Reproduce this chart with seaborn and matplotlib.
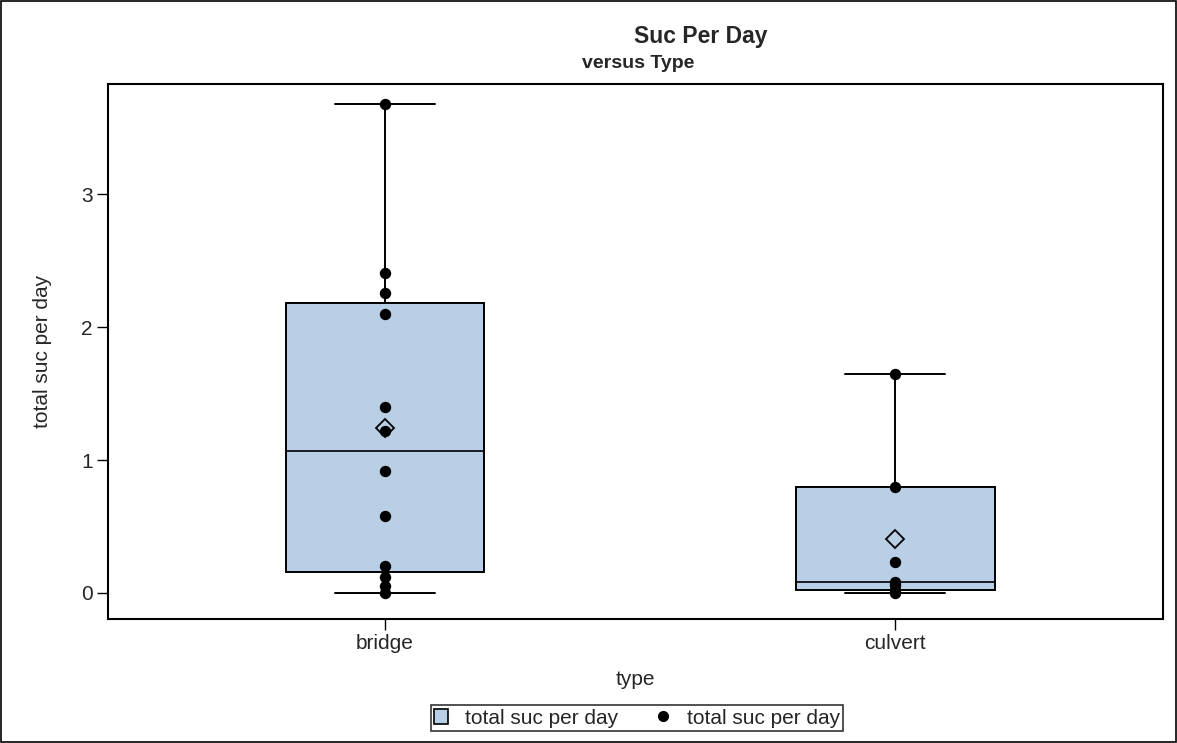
import numpy as np
import pandas as pd
import matplotlib
matplotlib.use("Agg")
import matplotlib as mpl
import matplotlib.pyplot as plt
from matplotlib.patches import Patch
from matplotlib.lines import Line2D
import seaborn as sns

# ---- data ----
types = ["bridge", "culvert"]
bridge_values = [3.68, 2.41, 2.26, 2.10, 1.40, 1.22, 0.92, 0.58, 0.20, 0.12, 0.05, 0.0]
culvert_values = [1.65, 0.80, 0.23, 0.08, 0.06, 0.02, 0.0]
y_ticks = [0, 1, 2, 3]
title = "Suc Per Day"
subtitle = "versus Type"
x_label = "type"
y_label = "total suc per day"
legend_labels = ["total suc per day", "total suc per day"]

box_color = "#B9CFE6"

df = pd.DataFrame({
    "type": [types[0]] * len(bridge_values) + [types[1]] * len(culvert_values),
    "value": bridge_values + culvert_values,
})

# SAS-style (definition 5) quartiles for the boxes
_orig_stats = mpl.cbook.boxplot_stats


def _sas_stats(X, *args, **kwargs):
    stats = _orig_stats(X, *args, **kwargs)
    for s, x in zip(stats, X):
        x = np.asarray(x, dtype=float)
        q1, med, q3 = np.percentile(x, [25, 50, 75], method="averaged_inverted_cdf")
        s["q1"], s["med"], s["q3"] = q1, med, q3
        s["iqr"] = q3 - q1
    return stats


mpl.cbook.boxplot_stats = _sas_stats

sns.set_style("white")
plt.rcParams["font.family"] = ["Liberation Sans", "DejaVu Sans"]

fig = plt.figure(figsize=(11.77, 7.43), dpi=100)
ax = fig.add_axes([108 / 1177, 1 - 619 / 743, (1163 - 108) / 1177, (619 - 84) / 743])

sns.boxplot(
    data=df, x="type", y="value", order=types, ax=ax,
    color=box_color, saturation=1, width=0.39, whis=(0, 100),
    showmeans=True, fliersize=0,
    boxprops=dict(facecolor=box_color, edgecolor="black", linewidth=1.4),
    medianprops=dict(color="black", linewidth=1.2),
    whiskerprops=dict(color="black", linewidth=1.4),
    capprops=dict(color="black", linewidth=1.4),
    meanprops=dict(marker="D", markerfacecolor="none", markeredgecolor="black",
                   markersize=9.5, markeredgewidth=1.3),
)
sns.stripplot(data=df, x="type", y="value", order=types, ax=ax,
              jitter=False, color="black", size=8.2, zorder=5)

mpl.cbook.boxplot_stats = _orig_stats

ax.set_xlim(-0.543, 1.525)
ax.set_ylim(-0.196, 3.83)
ax.set_yticks(y_ticks)
ax.set_yticklabels([str(t) for t in y_ticks])
ax.tick_params(axis="both", direction="out", length=8, width=1, color="black",
               labelsize=15, left=True, bottom=True, pad=3)
for sp in ax.spines.values():
    sp.set_visible(True)
    sp.set_color("black")
    sp.set_linewidth(1.5)

ax.set_xlabel(x_label, fontsize=15, labelpad=12)
ax.set_ylabel(y_label, fontsize=15, labelpad=21)

fig.text(701 / 1177, 1 - 37 / 743, title, ha="center", va="center",
         fontsize=16.5, fontweight="bold")
fig.text(638 / 1177, 1 - 64 / 743, subtitle, ha="center", va="center",
         fontsize=14, fontweight="bold")

handles = [
    Patch(facecolor=box_color, edgecolor="black", linewidth=1.2),
    Line2D([], [], linestyle="none", marker="o", color="black", markersize=7),
]
leg = fig.legend(handles, legend_labels, loc="center",
                 bbox_to_anchor=(637 / 1177, 1 - 718 / 743), ncol=2,
                 frameon=True, fontsize=15, handlelength=0.7, handleheight=0.7,
                 handletextpad=0.8, columnspacing=1.8, borderpad=0.15,
                 borderaxespad=0.3, fancybox=False)
leg.get_frame().set_edgecolor("black")
leg.get_frame().set_linewidth(1.2)

fig.patches.append(plt.Rectangle((0.001, 0.001), 0.998, 0.998, transform=fig.transFigure,
                                 fill=False, edgecolor="black", linewidth=1.2))

fig.savefig("out.png", dpi=100, facecolor="white")
